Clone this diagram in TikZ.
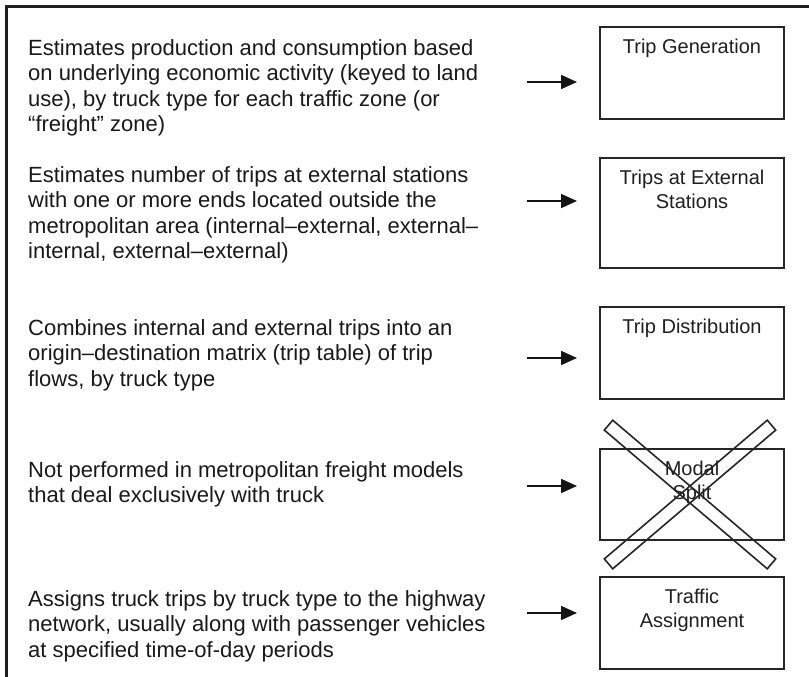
\documentclass[tikz,border=0pt]{standalone}
\usepackage{fontspec}
\setmainfont{Liberation Sans}
\usetikzlibrary{positioning, arrows.meta}

\tikzset{
  stage/.style={draw=black!85, line width=2pt, minimum width=184pt, inner sep=0pt, outer sep=0pt},
  stagetext/.style={anchor=north, align=center, inner sep=0pt, text=black!88, font=\fontsize{20}{24}\selectfont},
  desc/.style={anchor=north west, align=left, inner sep=0pt, text=black!90, font=\fontsize{22}{25.5}\selectfont},
  feed/.style={-{Triangle[length=16pt, width=14pt]}, line width=1.7pt, black!92, shorten >=23pt},
  xbar/.style={draw=black!85, line width=1.6pt, minimum width=214pt, minimum height=13pt, inner sep=0pt}
}

\begin{document}
\begin{tikzpicture}[x=1pt, y=-1pt]
\useasboundingbox (0,0) rectangle (809,677);

		% frame %
		\draw[line width=3pt, black!88] (6,677) -- (6,7) -- (809,7);

		% nodes - stages on the right %
		\node[stage, minimum height=92pt, anchor=north west] (gen) at (600,27) {};
		\node[stage, minimum height=110pt, below=39pt of gen] (ext) {};
		\node[stage, minimum height=92pt, below=39pt of ext] (dist) {};
		\node[stage, minimum height=91pt, below=50pt of dist] (split) {};
		\node[stage, minimum height=92pt, below=37pt of split] (assign) {};

		\node[stagetext] (gen-t) at ([yshift=-11.5pt]gen.north) {Trip Generation};
		\node[stagetext] (ext-t) at ([yshift=-11.5pt]ext.north) {Trips at External\\Stations};
		\node[stagetext] (dist-t) at ([yshift=-11.5pt]dist.north) {Trip Distribution};
		\node[stagetext] (split-t) at ([yshift=-11.5pt]split.north) {Modal\\Split};
		\node[stagetext] (assign-t) at ([yshift=-11.5pt]assign.north) {Traffic\\Assignment};

		% crossed out stage %
		\node[xbar, rotate=-40.4] (cross-a) at ([xshift=-2pt]split.center) {};
		\node[xbar, rotate=40.4] (cross-b) at ([xshift=-2pt]split.center) {};

		% nodes - descriptions on the left %
		\node[desc] (gen-d) at (28,39) {Estimates production and consumption based\\on underlying economic activity (keyed to land\\use), by truck type for each traffic zone (or\\“freight” zone)};
		\node[desc] (ext-d) at (28,166) {Estimates number of trips at external stations\\with one or more ends located outside the\\metropolitan area (internal–external, external–\\internal, external–external)};
		\node[desc] (dist-d) at (28,319) {Combines internal and external trips into an\\origin–destination matrix (trip table) of trip\\flows, by truck type};
		\node[desc] (split-d) at (28,461) {Not performed in metropolitan freight models\\that deal exclusively with truck};
		\node[desc] (assign-d) at (28,590) {Assigns truck trips by truck type to the highway\\network, usually along with passenger vehicles\\at specified time-of-day periods};

		% edges %
		\coordinate (a1) at (527,82);
		\coordinate (a2) at (527,201);
		\coordinate (a3) at (527,358);
		\coordinate (a4) at (527,486);
		\coordinate (a5) at (527,613);
		\draw[feed] (a1) -- (a1 -| gen.west);
		\draw[feed] (a2) -- (a2 -| ext.west);
		\draw[feed] (a3) -- (a3 -| dist.west);
		\draw[feed] (a4) -- (a4 -| split.west);
		\draw[feed] (a5) -- (a5 -| assign.west);
\end{tikzpicture}
\end{document}
